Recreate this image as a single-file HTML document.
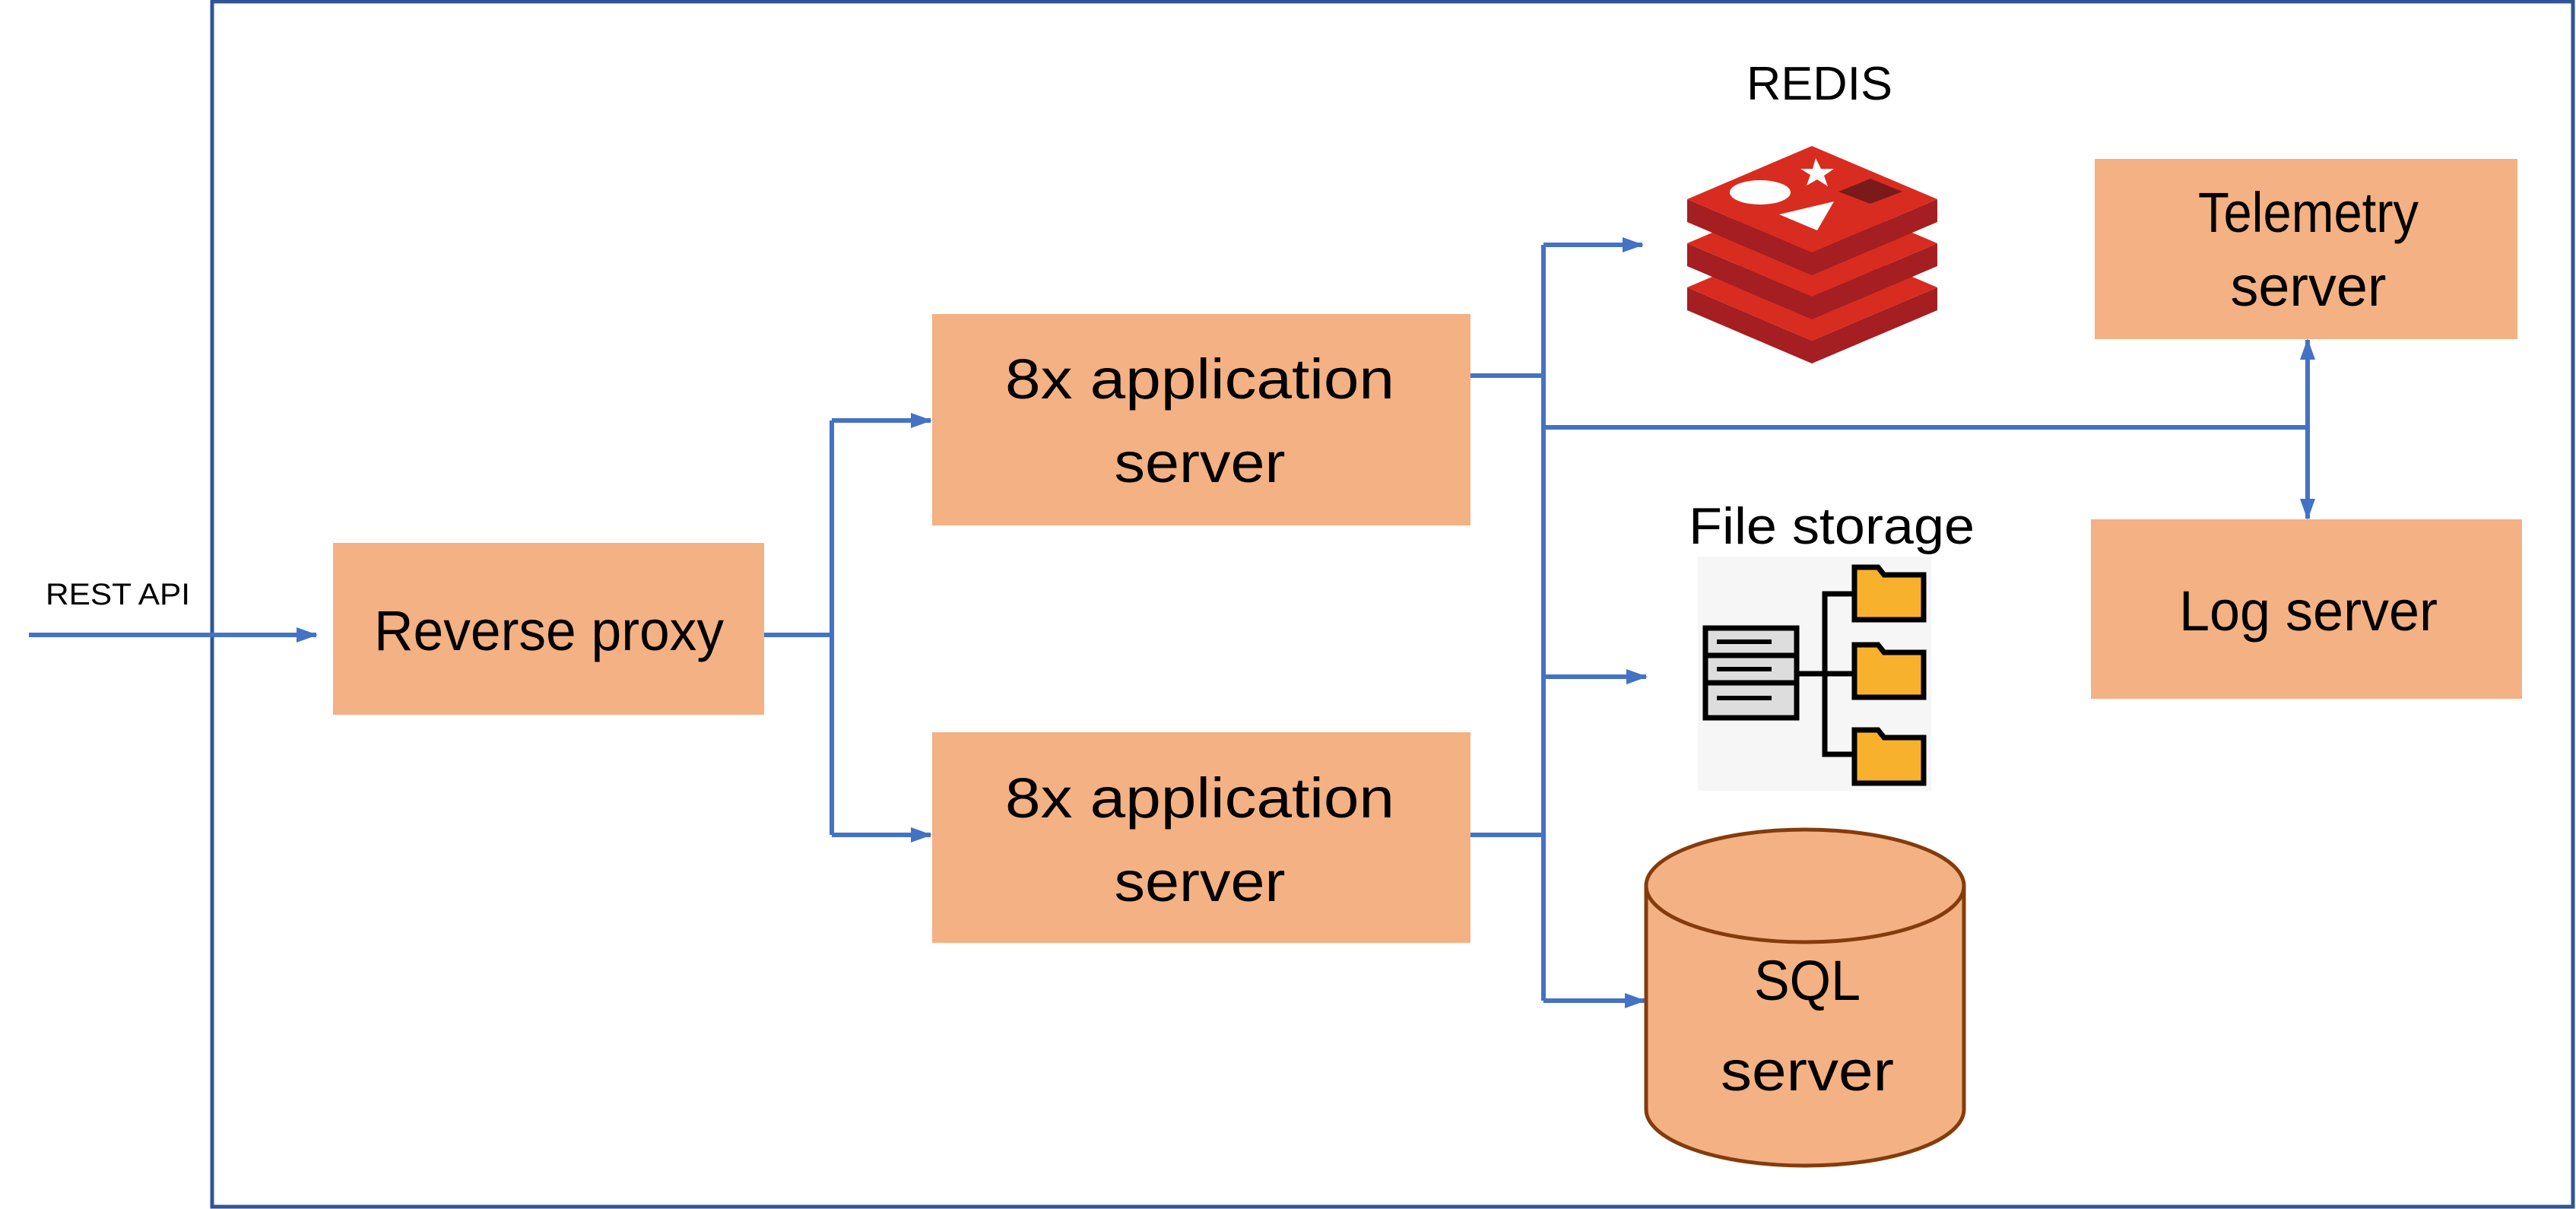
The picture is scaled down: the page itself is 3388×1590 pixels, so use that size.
<!DOCTYPE html>
<html><head><meta charset="utf-8"><style>html,body{margin:0;padding:0;background:#fff}svg{display:block}</style></head>
<body>
<svg width="3388" height="1590" viewBox="0 0 3388 1590" xmlns="http://www.w3.org/2000/svg" font-family="'Liberation Sans', sans-serif">
<defs>
<marker id="ah" markerWidth="28" markerHeight="22" refX="26" refY="11" orient="auto" markerUnits="userSpaceOnUse">
<path d="M0,1 L28,11 L0,21 z" fill="#4472c4"/></marker>
</defs>
<rect x="279" y="2" width="3105" height="1585" fill="none" stroke="#2f5597" stroke-width="5"/>

<g stroke="#4472c4" stroke-width="6" fill="none">
<line x1="38" y1="835" x2="416" y2="835" marker-end="url(#ah)"/>
<polyline points="1005,835 1094,835"/>
<polyline points="1094,553 1094,1098"/>
<line x1="1094" y1="553" x2="1224" y2="553" marker-end="url(#ah)"/>
<line x1="1094" y1="1098" x2="1224" y2="1098" marker-end="url(#ah)"/>
<line x1="1934" y1="494" x2="2030" y2="494"/>
<line x1="1934" y1="1098" x2="2030" y2="1098"/>
<line x1="2030" y1="322" x2="2030" y2="1316"/>
<line x1="2030" y1="322" x2="2160" y2="322" marker-end="url(#ah)"/>
<line x1="2030" y1="890" x2="2165" y2="890" marker-end="url(#ah)"/>
<line x1="2030" y1="1316" x2="2163" y2="1316" marker-end="url(#ah)"/>
<line x1="2030" y1="562" x2="3035" y2="562"/>
<line x1="3035" y1="562" x2="3035" y2="447" marker-end="url(#ah)"/>
<line x1="3035" y1="562" x2="3035" y2="682" marker-end="url(#ah)"/>
</g>

<g fill="#f4b183">
<rect x="438" y="714" width="567" height="226"/>
<rect x="1226" y="413" width="708" height="278"/>
<rect x="1226" y="963" width="708" height="277"/>
<rect x="2755" y="209" width="556" height="237"/>
<rect x="2750" y="683" width="567" height="236"/>
</g>

<path d="M2165,1165 L2165,1459 A209,74 0 0 0 2583,1459 L2583,1165" fill="#f4b183" stroke="#843c0c" stroke-width="5"/>
<ellipse cx="2374" cy="1165" rx="209" ry="74" fill="#f4b183" stroke="#843c0c" stroke-width="5"/>

<g fill="#000" text-anchor="middle" font-size="74">
<text x="155" y="795" font-size="40" textLength="190" lengthAdjust="spacingAndGlyphs">REST API</text>
<text x="722" y="855" textLength="460" lengthAdjust="spacingAndGlyphs">Reverse proxy</text>
<text x="1578" y="524" textLength="512" lengthAdjust="spacingAndGlyphs">8x application</text>
<text x="1578" y="634" textLength="225" lengthAdjust="spacingAndGlyphs">server</text>
<text x="1578" y="1075" textLength="512" lengthAdjust="spacingAndGlyphs">8x application</text>
<text x="1578" y="1185" textLength="225" lengthAdjust="spacingAndGlyphs">server</text>
<text x="3036" y="305" textLength="290" lengthAdjust="spacingAndGlyphs">Telemetry</text>
<text x="3036" y="402" textLength="205" lengthAdjust="spacingAndGlyphs">server</text>
<text x="3036" y="829" textLength="340" lengthAdjust="spacingAndGlyphs">Log server</text>
<text x="2377" y="1315" textLength="140" lengthAdjust="spacingAndGlyphs">SQL</text>
<text x="2377" y="1434" textLength="228" lengthAdjust="spacingAndGlyphs">server</text>
<text x="2393" y="131" font-size="62" textLength="192" lengthAdjust="spacingAndGlyphs">REDIS</text>
<text x="2409" y="715" font-size="68" textLength="376" lengthAdjust="spacingAndGlyphs">File storage</text>
</g>

<g>
<g transform="translate(0,116)">
<polygon points="2219,262 2219,292 2383,362 2548,292 2548,262 2383,332" fill="#a41e22"/>
<polygon points="2383,192 2548,262 2383,332 2219,262" fill="#d82c20"/>
</g>
<g transform="translate(0,58)">
<polygon points="2219,262 2219,292 2383,362 2548,292 2548,262 2383,332" fill="#a41e22"/>
<polygon points="2383,192 2548,262 2383,332 2219,262" fill="#d82c20"/>
</g>
<polygon points="2219,262 2219,292 2383,362 2548,292 2548,262 2383,332" fill="#a41e22"/>
<polygon points="2383,192 2548,262 2383,332 2219,262" fill="#d82c20"/>
<ellipse cx="2315" cy="253" rx="40" ry="16" fill="#fff"/>
<polygon points="2388,208 2395,222 2412,222 2399,231 2404,245 2390,236 2376,244 2381,230 2368,222 2384,222" fill="#fff"/>
<polygon points="2340,282 2412,265 2390,303" fill="#fff"/>
<polygon points="2418,252 2460,235 2502,252 2460,268" fill="#7a1a1a"/>
</g>

<rect x="2233" y="732" width="307" height="308" fill="#f6f6f6"/>
<g fill="#ddd" stroke="#000" stroke-width="7">
<rect x="2243" y="826" width="120" height="36"/>
<rect x="2243" y="862" width="120" height="36"/>
<rect x="2243" y="898" width="120" height="46"/>
</g>
<g stroke="#000" stroke-width="6">
<line x1="2258" y1="844" x2="2330" y2="844"/><line x1="2258" y1="880" x2="2330" y2="880"/><line x1="2258" y1="918" x2="2330" y2="918"/>
</g>
<g stroke="#000" stroke-width="7" fill="none">
<line x1="2363" y1="886" x2="2400" y2="886"/>
<polyline points="2437,781 2400,781 2400,992 2437,992"/>
<line x1="2400" y1="886" x2="2437" y2="886"/>
</g>
<g fill="#f8b12c" stroke="#000" stroke-width="7">
<path d="M2439,746 L2470,746 L2478,756 L2530,756 L2530,815 L2439,815 z"/>
<path d="M2439,848 L2470,848 L2478,858 L2530,858 L2530,917 L2439,917 z"/>
<path d="M2439,960 L2470,960 L2478,970 L2530,970 L2530,1030 L2439,1030 z"/>
</g>
</svg>
</body></html>
